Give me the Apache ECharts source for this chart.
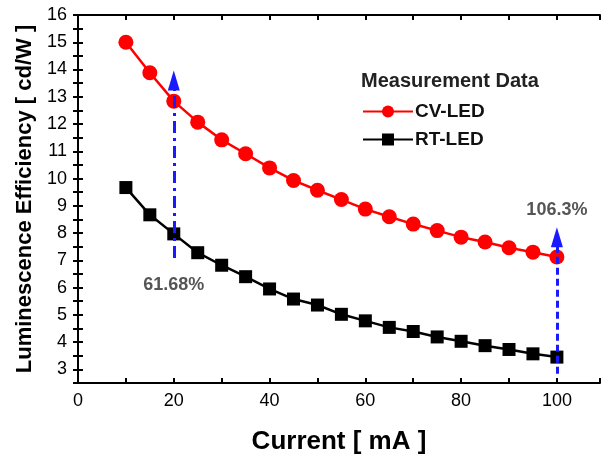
<!DOCTYPE html>
<html>
<head>
<meta charset="utf-8">
<script src="https://cdn.jsdelivr.net/npm/echarts@6/dist/echarts.min.js"></script>
<style>html,body{margin:0;padding:0;background:#fff}#c{width:607px;height:460px}</style>
</head>
<body>
<div id="c"></div>
<script>
const currents = [10,15,20,25,30,35,40,45,50,55,60,65,70,75,80,85,90,95,100];
const cvLed = [15.0,13.88,12.84,12.07,11.42,10.91,10.39,9.93,9.57,9.23,8.88,8.60,8.33,8.09,7.85,7.67,7.46,7.30,7.12];
const rtLed = [9.67,8.67,7.97,7.28,6.82,6.40,5.95,5.58,5.36,5.02,4.78,4.54,4.39,4.19,4.03,3.87,3.73,3.57,3.45];
const seriesNames = ['CV-LED','RT-LED'];
const legendTitle = 'Measurement Data';
const xName = 'Current [ mA ]';
const yName = 'Luminescence Efficiency [ cd/W ]';
// annotation arrows: x, start, end
const arrowX = [20, 100];
const arrowFrom = [7.09, 2.84];
const arrowTo = [13.6, 7.85];
const arrowLabels = ['61.68%', '106.3%'];
const arrowLabelY = [6.09, 8.84];

const FONT = "'Liberation Sans', Arial, sans-serif";
const chart = echarts.init(document.getElementById('c'), null, {renderer:'canvas'});
const axisLineStyle = {color:'#000', width:2};
const tickCommon = {show:true, inside:true, length:5, lineStyle:{color:'#000', width:2}};

const option = {
  backgroundColor:'#fff',
  animation:false,
  grid:{left:78, right:7, top:15, bottom:74, containLabel:false},
  legend:{
    data:seriesNames, orient:'vertical', left:357, top:97,
    itemWidth:50, itemHeight:15, itemGap:9,
    textStyle:{fontFamily:FONT, fontSize:19, fontWeight:'bold', color:'#111', padding:[0,0,0,-3]}
  },
  graphic:[{
    type:'text', left:361, top:71,
    style:{text:legendTitle, font:"bold 20px "+FONT, fill:'#222'}
  }],
  xAxis:[{
    type:'value', min:0, max:109, interval:10, position:'bottom',
    name:xName, nameLocation:'middle', nameGap:46,
    nameTextStyle:{fontFamily:FONT, fontSize:26, fontWeight:'bold', color:'#000'},
    axisLine:{show:true, lineStyle:axisLineStyle},
    axisTick:tickCommon,
    axisLabel:{fontFamily:FONT, fontSize:18, color:'#000', margin:9,
      formatter:v => (v % 20 === 0 ? String(v) : '')},
    splitLine:{show:false}
  },{
    type:'value', min:0, max:109, interval:10, position:'top',
    axisLine:{show:true, lineStyle:axisLineStyle},
    axisTick:tickCommon, axisLabel:{show:false}, splitLine:{show:false}
  }],
  yAxis:[{
    type:'value', min:2.5, max:16, interval:0.5, position:'left',
    name:yName, nameLocation:'middle', nameGap:42, nameRotate:90,
    nameTextStyle:{fontFamily:FONT, fontSize:22, fontWeight:'bold', color:'#000'},
    axisLine:{show:true, lineStyle:axisLineStyle},
    axisTick:tickCommon,
    axisLabel:{fontFamily:FONT, fontSize:18, color:'#000', margin:11,
      formatter:v => (Math.abs(v - Math.round(v)) < 1e-9 ? String(Math.round(v)) : '')},
    splitLine:{show:false}
  },{
    type:'value', min:2.5, max:16, interval:0.5, position:'right',
    axisLine:{show:true, lineStyle:axisLineStyle},
    axisTick:tickCommon, axisLabel:{show:false}, splitLine:{show:false}
  }],
  series:[
    {
      name:seriesNames[0], type:'line', xAxisIndex:0, yAxisIndex:0,
      data:currents.map((x,i)=>[x,cvLed[i]]),
      symbol:'circle', symbolSize:15,
      lineStyle:{color:'#ff0000', width:2.5}, itemStyle:{color:'#ff0000'}, z:2
    },
    {
      name:seriesNames[1], type:'line', xAxisIndex:0, yAxisIndex:0,
      data:currents.map((x,i)=>[x,rtLed[i]]),
      symbol:'rect', symbolSize:13,
      lineStyle:{color:'#000', width:2.5}, itemStyle:{color:'#000'}, z:2
    },
    {
      type:'line', xAxisIndex:0, yAxisIndex:0, data:[], z:5, silent:true,
      markLine:{
        silent:true, animation:false, precision:2,
        label:{show:false},
        emphasis:{disabled:true},
        data:[
          [{coord:[arrowX[0],arrowFrom[0]], symbol:'none'},
           {coord:[arrowX[0],arrowTo[0]], symbol:'triangle', symbolSize:[12,20],
            lineStyle:{color:'#1a1aff', width:3, type:[12,5,3,5]}}],
          [{coord:[arrowX[1],arrowFrom[1]], symbol:'none'},
           {coord:[arrowX[1],arrowTo[1]], symbol:'triangle', symbolSize:[12,20],
            lineStyle:{color:'#1a1aff', width:3, type:[7,4]}}]
        ],
        lineStyle:{color:'#1a1aff', width:3},
        itemStyle:{color:'#1a1aff'}
      }
    },
    {
      type:'scatter', xAxisIndex:0, yAxisIndex:0, symbolSize:0, silent:true, z:6,
      data:arrowX.map((x,i)=>({value:[x,arrowLabelY[i]], label:{formatter:arrowLabels[i]}})),
      label:{show:true, position:'inside', fontFamily:FONT, fontSize:18, fontWeight:'bold', color:'#2a2a2a'}
    }
  ]
};
chart.setOption(option);
</script>
</body>
</html>
